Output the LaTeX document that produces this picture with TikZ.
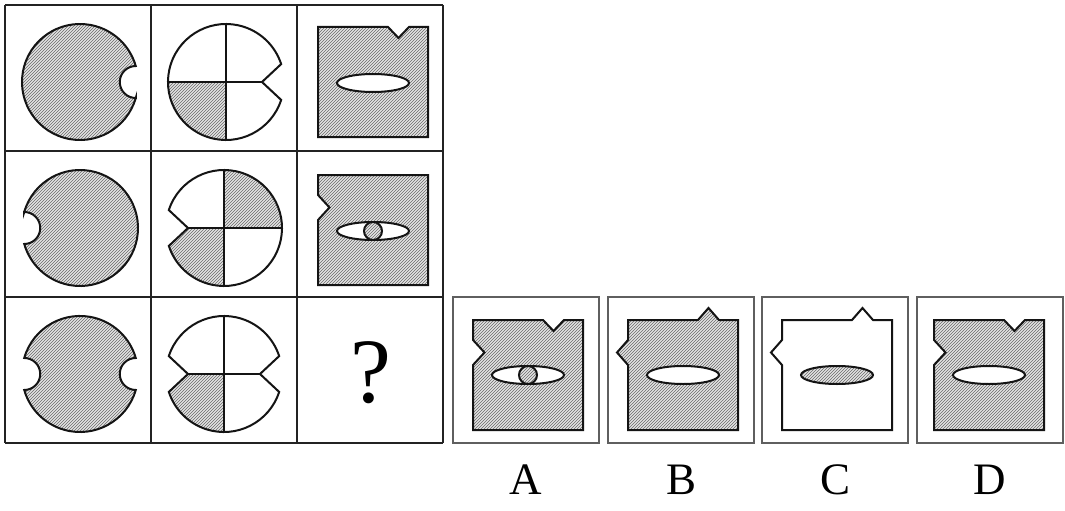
\documentclass[tikz,border=0pt]{standalone}
\usepackage{fontspec}
\setmainfont{Liberation Serif}
\usetikzlibrary{patterns}
\definecolor{FigInk}{RGB}{20,20,20}
\definecolor{FigGrid}{RGB}{35,35,35}
\definecolor{FigFrame}{RGB}{95,95,95}
\definecolor{FigShade}{RGB}{228,228,228}
\definecolor{FigStripe}{RGB}{105,105,105}
\tikzset{
  fig/outline/.style={draw=FigInk, line width=2pt, line join=miter},
  fig/hatch/.style={preaction={fill=FigShade}, pattern=north east lines, pattern color=FigStripe},
  fig/hole/.style={fill=white},
  fig/grid/.style={draw=FigGrid, line width=1.5pt},
  fig/option/.style={draw=FigFrame, line width=1.3pt, minimum size=146pt, inner sep=0pt},
  fig/letter/.style={font=\fontsize{45}{50}\selectfont, text=black},
  fig/ask/.style={font=\fontsize{92}{100}\selectfont, text=black}
}
% disc with round notches (radius 58, notch 16)
\newcommand{\discright}[1]{\path[#1] (16:58) arc[start angle=16,end angle=344,radius=58]
  arc[start angle=-90,end angle=-270,radius=16] -- cycle;}
\newcommand{\discleft}[1]{\path[#1] (196:58) arc[start angle=196,end angle=524,radius=58]
  arc[start angle=90,end angle=-90,radius=16] -- cycle;}
\newcommand{\discboth}[1]{\path[#1] (16:58) arc[start angle=16,end angle=164,radius=58]
  arc[start angle=90,end angle=-90,radius=16] arc[start angle=196,end angle=344,radius=58]
  arc[start angle=-90,end angle=-270,radius=16] -- cycle;}
% disc with V notches
\newcommand{\vdiscright}[1]{\path[#1] (18:58) arc[start angle=18,end angle=342,radius=58] -- (36,0) -- cycle;}
\newcommand{\vdiscleft}[1]{\path[#1] (198:58) arc[start angle=198,end angle=522,radius=58] -- (-36,0) -- cycle;}
\newcommand{\vdiscboth}[1]{\path[#1] (18:58) arc[start angle=18,end angle=162,radius=58] -- (-36,0)
  -- (198:58) arc[start angle=198,end angle=342,radius=58] -- (36,0) -- cycle;}
% square, #2 = top notch depth, #3 = left notch depth (negative = bump)
\newcommand{\sqshape}[3]{\path[#1] (-55,-55) -- (15,-55) -- (25.5,{-55+#2}) -- (36,-55) -- (55,-55)
  -- (55,55) -- (-55,55) -- (-55,-10) -- ({-55+#3},-22.5) -- (-55,-35) -- cycle;}

\begin{document}
\begin{tikzpicture}[x=1pt,y=-1pt]
  \useasboundingbox[fill=white] (0,0) rectangle (1065,511);
  % matrix grid
  \foreach \k in {5,151,297,443}{
    \draw[fig/grid] (\k,5) -- (\k,443);
    \draw[fig/grid] (5,\k) -- (443,\k);
  }
  % column 1
  \begin{scope}[shift={(80,82)}]
    \discright{fig/hatch,fig/outline}
  \end{scope}
  \begin{scope}[shift={(80,228)}]
    \discleft{fig/hatch,fig/outline}
  \end{scope}
  \begin{scope}[shift={(80,374)}]
    \discboth{fig/hatch,fig/outline}
  \end{scope}
  % column 2
  \begin{scope}[shift={(226,82)}]
    \begin{scope}
      \clip (0,0) rectangle (-62,62);
      \vdiscright{fig/hatch}
    \end{scope}
    \vdiscright{fig/outline}
    \draw[fig/outline] (0,-58) -- (0,58) (-58,0) -- (36,0);
  \end{scope}
  \begin{scope}[shift={(224,228)}]
    \begin{scope}
      \clip (0,0) rectangle (-62,62) (0,0) rectangle (62,-62);
      \vdiscleft{fig/hatch}
    \end{scope}
    \vdiscleft{fig/outline}
    \draw[fig/outline] (0,-58) -- (0,58) (-36,0) -- (58,0);
  \end{scope}
  \begin{scope}[shift={(224,374)}]
    \begin{scope}
      \clip (0,0) rectangle (-62,62);
      \vdiscboth{fig/hatch}
    \end{scope}
    \vdiscboth{fig/outline}
    \draw[fig/outline] (0,-58) -- (0,58) (-36,0) -- (36,0);
  \end{scope}
  % column 3
  \begin{scope}[shift={(373,82)}]
    \sqshape{fig/hatch,fig/outline}{11}{0}
    \draw[fig/outline,fig/hole] (0,1) ellipse[x radius=36,y radius=9];
  \end{scope}
  \begin{scope}[shift={(373,230)}]
    \sqshape{fig/hatch,fig/outline}{0}{11.5}
    \draw[fig/outline,fig/hole] (0,1) ellipse[x radius=36,y radius=9];
    \draw[fig/outline,fig/hatch] (0,1) circle[radius=9];
  \end{scope}
  \node[fig/ask] (ask) at (370.5,373) {?};
  % options
  \foreach \n/\x in {A/526,B/681,C/835,D/990}{
    \node[fig/option] (opt\n) at (\x,370) {};
    \node[fig/letter] (lab\n) at (\x,480) {\n};
  }
  \begin{scope}[shift={(528,375)}]
    \sqshape{fig/hatch,fig/outline}{11}{11.5}
    \draw[fig/outline,fig/hole] (0,0) ellipse[x radius=36,y radius=9];
    \draw[fig/outline,fig/hatch] (0,0) circle[radius=9];
  \end{scope}
  \begin{scope}[shift={(683,375)}]
    \sqshape{fig/hatch,fig/outline}{-12}{-11}
    \draw[fig/outline,fig/hole] (0,0) ellipse[x radius=36,y radius=9];
  \end{scope}
  \begin{scope}[shift={(837,375)}]
    \sqshape{fig/hole,fig/outline}{-12}{-11}
    \draw[fig/outline,fig/hatch] (0,0) ellipse[x radius=36,y radius=9];
  \end{scope}
  \begin{scope}[shift={(989,375)}]
    \sqshape{fig/hatch,fig/outline}{11}{11.5}
    \draw[fig/outline,fig/hole] (0,0) ellipse[x radius=36,y radius=9];
  \end{scope}
\end{tikzpicture}
\end{document}
